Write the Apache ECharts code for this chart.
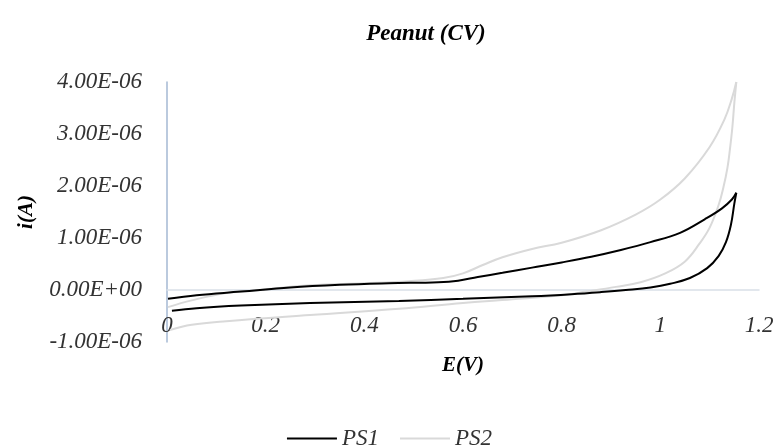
<!DOCTYPE html>
<html>
<head>
<meta charset="utf-8">
<script src="https://cdn.jsdelivr.net/npm/echarts@6/dist/echarts.min.js"></script>
<style>
html,body{margin:0;padding:0;background:#fff;}
#chart{width:779px;height:448px;}
</style>
</head>
<body>
<div id="chart"></div>
<script>
// ---- Data (E in volts, i in amperes) ----
const ps1ForwardE = [0.002, 0.06, 0.15, 0.25, 0.35, 0.45, 0.55, 0.59, 0.63, 0.68, 0.74, 0.80, 0.86, 0.92, 0.98, 1.04, 1.09, 1.125, 1.145, 1.154];
const ps1ForwardI = [-1.7e-7, -1.0e-7, -3.0e-8, 5.0e-8, 1.0e-7, 1.3e-7, 1.5e-7, 1.8e-7, 2.5e-7, 3.3e-7, 4.3e-7, 5.3e-7, 6.4e-7, 7.7e-7, 9.2e-7, 1.10e-6, 1.36e-6, 1.57e-6, 1.74e-6, 1.87e-6];
const ps1ReverseE = [1.154, 1.150, 1.143, 1.133, 1.118, 1.095, 1.06, 1.02, 0.98, 0.93, 0.88, 0.82, 0.74, 0.60, 0.47, 0.29, 0.15, 0.06, 0.01];
const ps1ReverseI = [1.87e-6, 1.66e-6, 1.25e-6, 9.2e-7, 6.5e-7, 4.2e-7, 2.3e-7, 1.2e-7, 5.0e-8, 0.0, -4.0e-8, -8.0e-8, -1.2e-7, -1.7e-7, -2.1e-7, -2.5e-7, -3.0e-7, -3.5e-7, -4.0e-7];

const ps2ForwardE = [0.002, 0.05, 0.12, 0.19, 0.29, 0.40, 0.49, 0.56, 0.60, 0.64, 0.68, 0.74, 0.80, 0.88, 0.95, 1.00, 1.05, 1.10, 1.13, 1.145, 1.154];
const ps2ForwardI = [-3.3e-7, -2.0e-7, -6.0e-8, 0.0, 9.0e-8, 1.3e-7, 1.7e-7, 2.3e-7, 3.2e-7, 4.8e-7, 6.3e-7, 7.9e-7, 9.1e-7, 1.15e-6, 1.45e-6, 1.74e-6, 2.15e-6, 2.75e-6, 3.28e-6, 3.68e-6, 4.00e-6];
const ps2ReverseE = [1.154, 1.150, 1.146, 1.141, 1.136, 1.128, 1.118, 1.10, 1.08, 1.05, 1.01, 0.96, 0.91, 0.85, 0.80, 0.70, 0.60, 0.47, 0.29, 0.12, 0.05, 0.006];
const ps2ReverseI = [4.00e-6, 3.60e-6, 3.13e-6, 2.70e-6, 2.35e-6, 1.98e-6, 1.63e-6, 1.20e-6, 9.0e-7, 5.5e-7, 3.2e-7, 1.5e-7, 6.0e-8, -3.0e-8, -1.0e-7, -1.8e-7, -2.5e-7, -3.6e-7, -4.8e-7, -6.0e-7, -6.7e-7, -7.7e-7];

const xTickLabels = ['0', '0.2', '0.4', '0.6', '0.8', '1', '1.2'];
const yTickLabels = ['-1.00E-06', '0.00E+00', '1.00E-06', '2.00E-06', '3.00E-06', '4.00E-06'];

const seriesNames = ['PS1', 'PS2'];
const titleText = 'Peanut (CV)';
const xName = 'E(V)';
const yName = 'i(A)';

// ---- Chart ----
const X_MIN = 0, X_MAX = 1.2, X_STEP = 0.2;
const Y_MIN = -1e-6, Y_MAX = 4e-6, Y_STEP = 1e-6;
const FONT = '"Liberation Serif", serif';

function pairs(xs, ys) { return xs.map((x, i) => [x, ys[i]]); }

const chart = echarts.init(document.getElementById('chart'), null, {renderer: 'canvas'});

function lineSeries(name, data, color) {
  return {
    name: name,
    type: 'line',
    data: data,
    smooth: 0.4,
    symbol: 'none',
    showSymbol: false,
    lineStyle: {color: color, width: 2},
    itemStyle: {color: color},
    z: name === 'PS1' ? 3 : 2
  };
}

chart.setOption({
  animation: false,
  backgroundColor: '#fff',
  title: {
    text: titleText,
    left: 421,
    top: 18,
    textAlign: 'center',
    textStyle: {fontFamily: FONT, fontSize: 23, fontWeight: 'bold', fontStyle: 'italic', color: '#000'}
  },
  grid: {left: 167, right: 20, top: 82, bottom: 106, containLabel: false},
  xAxis: {
    type: 'value',
    min: X_MIN, max: X_MAX, interval: X_STEP,
    name: xName,
    nameLocation: 'middle',
    nameGap: 13,
    nameMoveOverlap: false,
    nameTextStyle: {fontFamily: FONT, fontSize: 21, fontWeight: 'bold', fontStyle: 'italic', color: '#000'},
    axisLine: {show: true, onZero: true, lineStyle: {color: '#d9dfe8', width: 1.5}},
    axisTick: {show: false},
    splitLine: {show: false},
    axisLabel: {
      margin: -28,
      fontFamily: FONT, fontSize: 23, fontStyle: 'italic', color: '#333',
      formatter: function (v) { return xTickLabels[Math.round((v - X_MIN) / X_STEP)]; }
    }
  },
  yAxis: {
    type: 'value',
    min: Y_MIN, max: Y_MAX, interval: Y_STEP,
    name: yName,
    nameLocation: 'middle',
    nameRotate: 90,
    nameGap: 130,
    nameTextStyle: {fontFamily: FONT, fontSize: 21, fontWeight: 'bold', fontStyle: 'italic', color: '#000'},
    axisLine: {show: true, onZero: false, lineStyle: {color: '#a5b9d3', width: 1.5}},
    axisTick: {show: false},
    splitLine: {show: false},
    axisLabel: {
      margin: 25,
      fontFamily: FONT, fontSize: 23, fontStyle: 'italic', color: '#333',
      formatter: function (v) { return yTickLabels[Math.round((v - Y_MIN) / Y_STEP)]; }
    }
  },
  legend: {
    data: seriesNames,
    top: 422,
    left: 'center',
    icon: 'rect',
    itemWidth: 50,
    itemHeight: 2,
    itemGap: 21,
    textStyle: {fontFamily: FONT, fontSize: 23, fontStyle: 'italic', color: '#333'}
  },
  series: [
    lineSeries('PS2', pairs(ps2ForwardE, ps2ForwardI), '#d9d9d9'),
    lineSeries('PS2', pairs(ps2ReverseE, ps2ReverseI), '#d9d9d9'),
    lineSeries('PS1', pairs(ps1ForwardE, ps1ForwardI), '#000000'),
    lineSeries('PS1', pairs(ps1ReverseE, ps1ReverseI), '#000000')
  ]
});
</script>
</body>
</html>
